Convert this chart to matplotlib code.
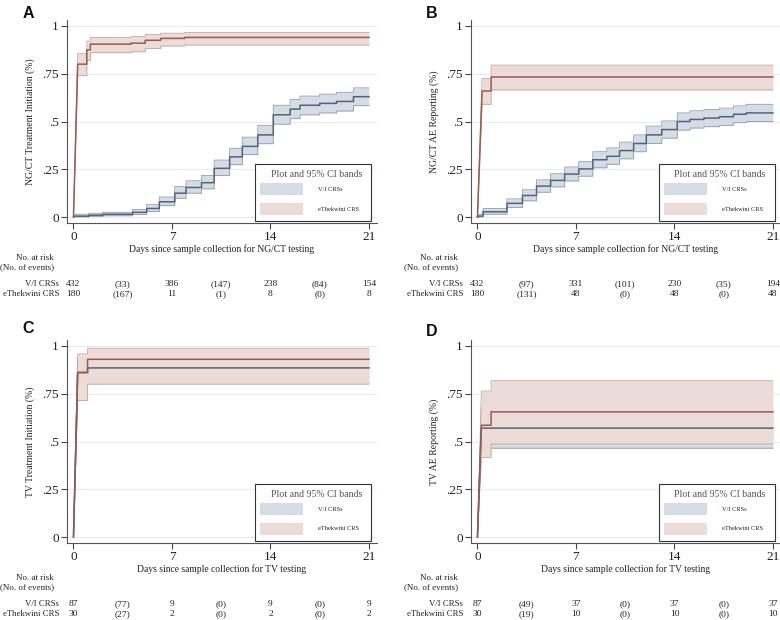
import matplotlib
matplotlib.use("Agg")
import matplotlib.pyplot as plt
from matplotlib.patches import Rectangle
from matplotlib.transforms import blended_transform_factory

plt.rcParams["font.family"] = ["Liberation Serif", "DejaVu Serif"]

# ---- data (days, cumulative proportion, 95% CI) ----

# A: NG/CT treatment initiation
a_vi_t = [0, 0.1, 1.1, 2.1, 4.2, 5.2, 6.1, 7.2, 8.0, 9.1, 10.0, 11.1, 12.0, 13.1, 14.2, 15.4, 16.1, 17.5, 18.7, 19.9]
a_vi_est = [0, .005, .01, .015, .025, .045, .08, .125, .155, .18, .255, .315, .37, .43, .535, .565, .585, .595, .605, .63]
a_vi_lo = [0, .001, .004, .007, .014, .029, .06, .098, .125, .148, .217, .274, .327, .384, .486, .515, .535, .545, .555, .583]
a_vi_hi = [0, .015, .02, .025, .04, .065, .105, .16, .19, .218, .298, .36, .418, .48, .585, .615, .633, .643, .653, .676]
a_eth_t = [0, 0.3, 0.95, 1.2, 4.1, 5.1, 6.2, 7.9]
a_eth_est = [0, .80, .875, .905, .91, .925, .935, .94]
a_eth_lo = [0, .74, .82, .86, .865, .882, .895, .90]
a_eth_hi = [0, .855, .92, .94, .945, .955, .962, .966]

# B: NG/CT AE reporting
b_vi_t = [0, 0.1, 0.4, 2.1, 3.2, 4.2, 5.2, 6.2, 7.2, 8.2, 9.2, 10.1, 11.1, 12.0, 13.1, 14.2, 15.1, 16.1, 17.2, 18.2, 19.1]
b_vi_est = [0, .005, .028, .072, .113, .162, .192, .225, .252, .30, .318, .348, .385, .43, .458, .50, .511, .518, .525, .538, .545]
b_vi_lo = [0, .001, .015, .05, .085, .13, .158, .189, .214, .258, .276, .305, .342, .385, .413, .455, .466, .473, .48, .494, .50]
b_vi_hi = [0, .015, .045, .095, .143, .195, .227, .262, .29, .342, .362, .392, .43, .476, .503, .545, .556, .563, .57, .582, .59]
b_eth_t = [0, 0.33, 0.97]
b_eth_est = [0, .66, .733]
b_eth_lo = [0, .59, .665]
b_eth_hi = [0, .725, .795]

# C: TV treatment initiation
c_vi_t = [0, 0.3, 1.0]
c_vi_est = [0, .86, .885]
c_vi_lo = [0, .76, .805]
c_vi_hi = [0, .93, .94]
c_eth_t = [0, 0.3, 1.0]
c_eth_est = [0, .862, .93]
c_eth_lo = [0, .714, .80]
c_eth_hi = [0, .958, .988]

# D: TV AE reporting
d_vi_t = [0, 0.28]
d_vi_est = [0, .57]
d_vi_lo = [0, .465]
d_vi_hi = [0, .67]
d_eth_t = [0, 0.28, 0.97]
d_eth_est = [0, .585, .655]
d_eth_lo = [0, .417, .487]
d_eth_hi = [0, .764, .818]

# numbers at risk (and events) at 0, 3.5, ..., 21 days
risk_times = [0, 3.5, 7, 10.5, 14, 17.5, 21]
a_vi_risk = ["432", "(33)", "386", "(147)", "238", "(84)", "154"]
a_eth_risk = ["180", "(167)", "11", "(1)", "8", "(0)", "8"]
b_vi_risk = ["432", "(97)", "331", "(101)", "230", "(35)", "194"]
b_eth_risk = ["180", "(131)", "48", "(0)", "48", "(0)", "48"]
c_vi_risk = ["87", "(77)", "9", "(0)", "9", "(0)", "9"]
c_eth_risk = ["30", "(27)", "2", "(0)", "2", "(0)", "2"]
d_vi_risk = ["87", "(49)", "37", "(0)", "37", "(0)", "37"]
d_eth_risk = ["30", "(19)", "10", "(0)", "10", "(0)", "10"]

group_names = ["V/I CRSs", "eThekwini CRS"]
y_ticks = [0, 0.25, 0.5, 0.75, 1]
y_tick_labels = ["0", ".25", ".5", ".75", "1"]
x_ticks = [0, 7, 14, 21]

BLUE_FILL = "#d5dce5"
BLUE_EDGE = "#8e9cad"
BLUE_LINE = "#546377"
RED_FILL = "#ecdcd7"
RED_EDGE = "#c6a49b"
RED_LINE = "#9a5a4f"
TEXT = "#222222"


def step_xy(t, v, end=21):
    """Stairstep coordinates; first segment is drawn straight from the origin."""
    xs = [t[0], t[1]]
    ys = [v[0], v[1]]
    for i in range(2, len(t)):
        xs += [t[i], t[i]]
        ys += [v[i - 1], v[i]]
    xs.append(end)
    ys.append(v[-1])
    return xs, ys


def draw_band(ax, t, lo, hi, fill, edge, z):
    xs, lo_y = step_xy(t, lo)
    _, hi_y = step_xy(t, hi)
    ax.fill_between(xs, lo_y, hi_y, color=fill, lw=0, zorder=z)
    ax.plot(xs, lo_y, color=edge, lw=0.6, zorder=z + 0.1)
    ax.plot(xs, hi_y, color=edge, lw=0.6, zorder=z + 0.1)


def draw_legend(ax):
    """Stata-style legend box in the lower right."""
    tr = ax.transAxes
    ax.add_patch(Rectangle((0.606, 0.012), 0.376, 0.278, transform=tr,
                           facecolor="white", edgecolor="#333333", lw=0.8, zorder=10))
    ax.text(0.804, 0.241, "Plot and 95% CI bands", transform=tr, ha="center",
            va="center", fontsize=7.1, color="#555555", zorder=11)
    for yc, fill, name in [(0.167, BLUE_FILL, group_names[0]), (0.069, RED_FILL, group_names[1])]:
        ax.add_patch(Rectangle((0.623, yc - 0.03), 0.138, 0.06, transform=tr,
                               facecolor=fill, lw=0, zorder=11))
        ax.text(0.81, yc, name, transform=tr, ha="left", va="center",
                fontsize=4.6, color=TEXT, zorder=11)


def plot_panel(ax, letter_pos, letter, vi, eth, vi_risk, eth_risk, ylabel, xlabel):
    draw_band(ax, vi[0], vi[2], vi[3], BLUE_FILL, BLUE_EDGE, 1)
    draw_band(ax, eth[0], eth[2], eth[3], RED_FILL, RED_EDGE, 2)
    xs, ys = step_xy(vi[0], vi[1])
    ax.plot(xs, ys, color=BLUE_LINE, lw=1.1, zorder=4)
    xs, ys = step_xy(eth[0], eth[1])
    ax.plot(xs, ys, color=RED_LINE, lw=1.1, zorder=5)

    ax.set_xlim(-0.46, 21.57)
    ax.set_ylim(-0.031, 1.031)
    ax.set_xticks(x_ticks)
    ax.set_yticks(y_ticks)
    ax.set_yticklabels(y_tick_labels)
    ax.tick_params(direction="out", length=4, width=0.8, color="#444444",
                   labelsize=9.5, labelcolor=TEXT, pad=2)
    ax.yaxis.grid(True, color="#e6ecf0", lw=0.8)
    ax.set_axisbelow(True)
    for side in ["top", "right"]:
        ax.spines[side].set_visible(False)
    for side in ["left", "bottom"]:
        ax.spines[side].set_color("#555555")
        ax.spines[side].set_linewidth(0.8)

    ax.set_ylabel(ylabel, fontsize=7.0, color=TEXT)
    ax.yaxis.set_label_coords(-0.103, 0.5)
    ax.set_xlabel(xlabel, fontsize=6.9, color=TEXT, labelpad=1)

    draw_legend(ax)

    # number-at-risk table below the axis
    tr = blended_transform_factory(ax.transData, ax.transAxes)
    ax.text(-1.4, -0.172, "No. at risk", transform=tr, ha="right", va="center",
            fontsize=6.4, color=TEXT)
    ax.text(-1.35, -0.217, "(No. of events)", transform=tr, ha="right", va="center",
            fontsize=6.4, color=TEXT)
    for yrow, name, row in [(-0.30, group_names[0], vi_risk), (-0.35, group_names[1], eth_risk)]:
        ax.text(-1.03, yrow, name, transform=tr, ha="right", va="center",
                fontsize=6.3, color=TEXT)
        for xt, s in zip(risk_times, row):
            ax.text(xt, yrow, s, transform=tr, ha="center", va="center",
                    fontsize=6.8, color=TEXT)

    ax.figure.text(letter_pos[0], letter_pos[1], letter, fontsize=11.5, fontweight="bold",
                   family="Liberation Sans", ha="left", va="top", color="#111111")


fig = plt.figure(figsize=(7.8, 6.2), dpi=100)

ax_a = fig.add_axes([0.0859, 0.6403, 0.3974, 0.3274])
ax_b = fig.add_axes([0.6038, 0.6403, 0.3974, 0.3274])
ax_c = fig.add_axes([0.0859, 0.1242, 0.3974, 0.3274])
ax_d = fig.add_axes([0.6038, 0.1242, 0.3974, 0.3274])

ngct_x = "Days since sample collection for NG/CT testing"
tv_x = "Days since sample collection for TV testing"

plot_panel(ax_a, (0.029, 0.991), "A",
           (a_vi_t, a_vi_est, a_vi_lo, a_vi_hi), (a_eth_t, a_eth_est, a_eth_lo, a_eth_hi),
           a_vi_risk, a_eth_risk, "NG/CT Treatment Initiation (%)", ngct_x)
plot_panel(ax_b, (0.546, 0.991), "B",
           (b_vi_t, b_vi_est, b_vi_lo, b_vi_hi), (b_eth_t, b_eth_est, b_eth_lo, b_eth_hi),
           b_vi_risk, b_eth_risk, "NG/CT AE Reporting (%)", ngct_x)
plot_panel(ax_c, (0.029, 0.483), "C",
           (c_vi_t, c_vi_est, c_vi_lo, c_vi_hi), (c_eth_t, c_eth_est, c_eth_lo, c_eth_hi),
           c_vi_risk, c_eth_risk, "TV Treatment Initiation (%)", tv_x)
plot_panel(ax_d, (0.546, 0.478), "D",
           (d_vi_t, d_vi_est, d_vi_lo, d_vi_hi), (d_eth_t, d_eth_est, d_eth_lo, d_eth_hi),
           d_vi_risk, d_eth_risk, "TV AE Reporting (%)", tv_x)

fig.savefig("out.png", dpi=100)
plt.close(fig)
